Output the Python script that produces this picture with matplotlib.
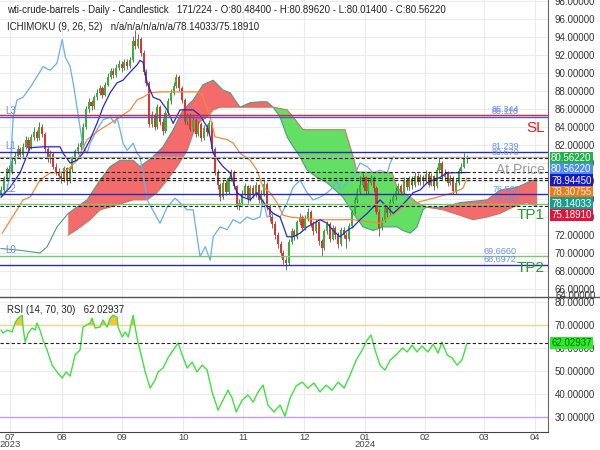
import matplotlib.pyplot as plt
from matplotlib.lines import Line2D
import numpy as np

plt.rcParams['font.family'] = ['Liberation Sans', 'DejaVu Sans']

# daily candles (bar index 0..170), open of each bar = previous close
first_open = 76.6
closes = [77.0, 78.2, 79.3, 79.0, 80.2, 80.8, 81.5, 80.9, 81.8, 82.6,
          81.7, 82.9, 83.4, 82.8, 84.0, 83.2, 81.5, 80.4, 81.0, 79.6,
          79.0, 78.6, 78.2, 79.4, 78.0, 79.3, 80.5, 81.3, 81.8, 82.2,
          84.0, 86.0, 86.8, 86.3, 87.3, 87.8, 88.3, 87.6, 88.7, 89.6,
          90.2, 89.8, 90.6, 91.0, 90.5, 91.2, 90.8, 91.4, 93.6, 93.0,
          93.8, 92.2, 90.1, 88.9, 84.3, 85.3, 84.0, 86.2, 84.6, 83.5,
          85.6, 86.9, 87.8, 88.6, 89.6, 88.3, 87.0, 84.6, 85.2, 83.8,
          84.8, 83.2, 84.3, 82.8, 83.9, 83.4, 84.4, 81.6, 79.0, 77.5,
          76.2, 77.8, 76.8, 78.3, 79.0, 77.4, 75.2, 75.6, 76.6, 77.4,
          76.0, 77.2, 76.5, 77.5, 75.9, 76.6, 77.7, 75.1, 74.0, 73.2,
          72.0, 71.0, 70.0, 69.2, 68.9, 71.2, 72.4, 71.8, 73.4, 74.0,
          72.8, 73.9, 74.6, 73.2, 72.4, 73.4, 71.3, 70.5, 72.4, 73.2,
          71.6, 72.8, 72.0, 71.0, 72.6, 72.0, 71.5, 73.0, 74.5, 75.9,
          76.8, 77.6, 78.4, 76.9, 77.8, 78.3, 77.2, 74.6, 72.8, 73.6,
          75.0, 74.4, 75.7, 76.2, 76.9, 77.4, 76.8, 78.0, 77.3, 78.2,
          77.5, 78.6, 77.9, 78.4, 78.0, 78.8, 77.6, 78.5, 77.4, 79.2,
          80.0, 78.4, 78.9, 77.8, 78.3, 76.9, 77.8, 79.1, 79.6, 80.484,
          80.5622]
highs = [77.4, 78.5, 79.6, 79.8, 80.5, 81.2, 82.0, 81.8, 82.2, 83.0,
         82.9, 83.2, 84.0, 83.7, 84.6, 84.3, 83.4, 81.8, 81.4, 81.2,
         80.0, 79.4, 78.9, 79.7, 79.6, 79.6, 80.8, 81.6, 82.2, 82.5,
         84.4, 86.3, 87.2, 87.0, 87.6, 88.2, 88.7, 88.6, 89.0, 90.0,
         90.6, 90.5, 91.0, 91.4, 91.3, 91.6, 91.5, 91.8, 94.1, 94.8,
         94.3, 94.0, 92.5, 90.4, 89.1, 85.8, 85.6, 86.6, 86.4, 85.0,
         85.9, 87.2, 88.2, 89.0, 89.9, 89.8, 88.6, 87.2, 85.6, 85.5,
         85.2, 85.0, 84.7, 84.5, 84.2, 84.3, 84.8, 84.6, 81.8, 79.3,
         77.8, 78.1, 78.1, 78.6, 79.3, 79.2, 77.6, 76.0, 77.0, 77.8,
         77.6, 77.5, 77.5, 77.9, 77.7, 77.0, 78.1, 77.9, 75.4, 74.3,
         73.5, 72.3, 71.3, 70.3, 69.6, 71.5, 72.8, 72.7, 73.7, 74.4,
         74.2, 74.2, 75.0, 74.8, 73.5, 73.8, 73.6, 71.6, 72.7, 73.6,
         73.4, 73.1, 73.0, 72.3, 72.9, 72.9, 72.3, 73.3, 74.8, 76.2,
         77.2, 78.6, 78.9, 78.6, 78.2, 78.7, 78.5, 77.4, 74.9, 74.0,
         75.4, 75.3, 76.0, 76.6, 77.3, 77.8, 77.7, 78.4, 78.3, 78.6,
         78.5, 79.0, 78.9, 78.8, 78.7, 79.2, 79.0, 78.9, 78.7, 79.5,
         80.6, 80.2, 79.3, 79.1, 78.7, 78.5, 78.2, 79.4, 80.0, 81.1,
         80.8962]
lows = [76.3, 76.8, 78.0, 78.6, 78.8, 79.9, 80.5, 80.4, 80.7, 81.5,
        81.3, 81.5, 82.6, 82.4, 82.6, 82.9, 81.2, 80.1, 80.0, 79.3,
        78.7, 78.2, 77.8, 77.9, 77.6, 77.8, 79.0, 80.2, 81.0, 81.4,
        82.0, 83.8, 85.7, 85.9, 86.0, 87.0, 87.5, 87.2, 87.4, 88.5,
        89.3, 89.4, 89.6, 90.3, 90.1, 90.3, 90.4, 90.6, 91.2, 92.7,
        92.8, 91.9, 89.8, 88.5, 84.0, 84.0, 83.7, 83.8, 84.2, 83.1,
        83.3, 85.3, 86.6, 87.5, 88.3, 88.0, 86.7, 84.3, 84.2, 83.5,
        83.5, 82.9, 83.0, 82.4, 82.6, 83.0, 83.2, 81.3, 78.7, 77.1,
        75.8, 76.0, 76.4, 76.5, 78.0, 77.1, 74.9, 74.8, 75.3, 76.3,
        75.6, 75.8, 76.1, 76.2, 75.6, 75.6, 76.3, 74.8, 73.6, 72.8,
        71.6, 70.6, 69.6, 68.8, 68.1, 68.7, 71.0, 71.4, 71.6, 73.1,
        72.4, 72.6, 73.6, 72.9, 72.0, 72.2, 70.9, 69.7, 70.3, 72.1,
        71.2, 71.4, 71.6, 70.6, 70.8, 71.7, 70.6, 71.3, 72.8, 74.3,
        75.6, 76.5, 77.3, 76.5, 76.6, 77.5, 76.8, 74.3, 71.9, 72.5,
        73.4, 74.0, 74.2, 75.4, 75.9, 76.6, 76.4, 76.6, 77.0, 77.0,
        77.1, 77.3, 77.5, 77.6, 77.6, 77.8, 77.3, 77.4, 77.0, 77.2,
        78.9, 78.1, 78.1, 77.4, 77.5, 76.5, 76.6, 77.6, 78.9, 79.4,
        80.014]

# ichimoku lines: (bar, price)
tenkan = [(0, 76.2), (3.3, 77.3), (6.9, 78.9), (10.6, 81.7), (15.3, 81.8), (21.5, 81.8),
          (22.6, 81.1), (25.2, 80.0), (27.7, 80.3), (29.9, 81.1), (32.5, 82.6), (35.0, 84.4),
          (37.2, 86.2), (39.8, 87.8), (42.3, 88.9), (44.5, 89.2), (47.1, 90.1), (49.6, 90.9),
          (50.7, 91.4), (51.8, 91.2), (53.3, 88.9), (55.5, 87.3), (58.0, 87.0), (60.6, 85.9),
          (62.8, 84.4), (65.3, 85.9), (70.1, 85.9), (72.6, 85.3), (75.2, 84.0), (76.3, 82.9),
          (77.4, 81.1), (79.2, 80.3), (81.0, 79.6), (83.6, 78.9), (86.1, 76.7), (88.3, 76.2),
          (90.9, 75.9), (93.4, 76.7), (94.5, 76.2), (97.1, 75.1), (99.3, 74.4), (101.8, 74.0),
          (104.4, 71.8), (106.6, 71.8), (109.1, 72.2), (111.7, 72.9), (116.4, 73.7), (119.0, 73.3),
          (121.2, 72.5), (123.7, 71.8), (126.3, 72.5), (128.5, 72.9), (131.0, 73.7), (133.6, 74.4),
          (135.8, 75.1), (138.3, 75.9), (140.9, 75.1), (143.1, 74.4), (145.6, 75.1), (148.2, 75.9),
          (150.4, 76.7), (152.9, 77.0), (155.5, 77.8), (157.7, 78.1), (160.2, 78.4), (162.8, 78.9),
          (170, 78.9445)]
kijun = [(0.4, 72.2), (5.8, 74.8), (8.0, 75.9), (10.6, 76.2), (14.2, 78.1), (17.9, 78.9),
         (21.5, 78.9), (24.1, 79.2), (27.7, 80.3), (31.4, 82.6), (36.1, 83.7), (39.8, 84.4),
         (43.4, 85.1), (47.1, 85.9), (49.6, 87.0), (51.8, 87.3), (54.4, 87.8), (58.0, 87.9),
         (71.5, 87.9), (73.4, 87.6), (76.3, 85.1), (78.1, 82.9), (82.5, 82.6), (84.7, 82.2),
         (87.2, 81.1), (90.9, 80.3), (93.4, 79.2), (95.6, 77.3), (98.2, 76.7), (100.7, 75.6),
         (102.9, 74.2), (105.5, 74.0), (115.3, 73.7), (128.5, 73.7), (138.3, 73.3), (142.7, 74.2),
         (146.7, 75.1), (152.9, 75.7), (159.1, 76.2), (165.0, 76.7), (168.6, 77.2), (170, 78.30755)]
chikou = [(0, 76.4), (2.2, 77.0), (3.3, 78.9), (4.4, 85.1), (5.8, 87.0), (8.0, 87.3),
          (10.6, 88.4), (13.1, 89.6), (15.3, 90.7), (17.9, 90.3), (20.4, 91.1), (22.3, 93.7),
          (23.4, 91.8), (25.2, 90.7), (26.3, 88.9), (27.7, 86.2), (28.8, 84.0), (29.9, 81.8),
          (31.4, 81.1), (32.5, 82.2), (35.0, 83.7), (37.2, 84.8), (39.8, 85.1), (41.6, 84.4),
          (42.3, 85.1), (43.4, 83.7), (44.5, 82.2), (46.0, 81.4), (48.2, 82.2), (49.6, 81.1),
          (50.7, 80.7), (53.3, 75.9), (58.0, 73.3), (60.6, 75.1), (63.5, 76.1), (67.9, 74.8),
          (70.1, 74.8), (72.6, 69.6), (74.5, 70.7), (76.3, 69.2), (77.4, 71.8), (79.9, 72.9),
          (82.5, 72.6), (84.7, 73.7), (87.2, 73.3), (89.8, 74.0), (92.0, 73.7), (94.5, 74.0),
          (95.6, 75.9), (97.1, 74.0), (99.3, 74.4), (101.8, 74.0), (104.4, 75.6), (106.6, 77.3),
          (109.1, 78.1), (111.7, 76.7), (113.9, 75.9), (116.4, 76.2), (119.0, 76.7), (121.2, 77.3),
          (122.6, 78.1), (123.7, 77.0), (126.3, 77.8), (128.5, 78.4), (131.0, 80.0), (133.6, 79.6),
          (135.8, 78.9), (138.3, 79.2), (140.9, 78.9), (142.0, 80.0), (143.1, 80.7), (144.0, 80.56)]
span_a = [(0, 70.5), (6.9, 70.3), (14.2, 70.0), (16.8, 70.7), (20.4, 72.9), (24.5, 74.4),
          (27.7, 75.1), (31.4, 75.9), (36.1, 78.1), (39.8, 79.6), (43.4, 80.3), (48.2, 80.3),
          (50.7, 79.6), (55.5, 80.7), (59.1, 81.8), (62.8, 83.7), (66.4, 85.9), (70.1, 87.0),
          (73.7, 88.7), (77.4, 89.2), (81.0, 88.1), (83.6, 87.8), (87.2, 86.2), (90.9, 86.7),
          (94.5, 86.8), (97.1, 86.8), (99.3, 86.2), (101.8, 85.1), (104.4, 82.9), (106.6, 81.8),
          (109.1, 80.7), (111.7, 79.2), (115.3, 78.4), (119.0, 77.8), (124.8, 76.2), (128.5, 74.4),
          (132.1, 72.9), (135.8, 72.5), (139.4, 72.9), (144.5, 72.9), (146.7, 72.5), (149.3, 72.2),
          (151.8, 72.9), (154.0, 74.8), (155.1, 75.1), (161.3, 75.1), (167.5, 75.6), (177.4, 75.9),
          (182.1, 77.0), (188.3, 77.3), (194.2, 78.1), (195.6, 78.14033)]
span_b = [(24.5, 72.0), (27.7, 72.6), (32.5, 73.7), (36.1, 74.8), (39.8, 75.1), (48.2, 75.9),
          (53.3, 75.9), (56.9, 76.7), (60.6, 78.1), (64.2, 79.6), (67.9, 81.4), (70.1, 83.3),
          (72.6, 84.6), (75.2, 85.1), (77.4, 85.9), (79.9, 86.2), (99.3, 86.2), (104.4, 85.9),
          (106.6, 85.1), (110.2, 83.7), (125.5, 83.7), (128.5, 80.7), (129.9, 79.0), (142.7, 78.9),
          (144.5, 77.3), (146.7, 76.7), (149.3, 76.2), (151.8, 75.6), (155.1, 75.1), (161.3, 74.8),
          (172.3, 73.7), (177.4, 74.0), (182.1, 74.4), (186.9, 75.1), (191.8, 75.6), (195.6, 75.1891)]
# cloud sections (start bar, end bar, colour)
cloud_sections = [(24.5, 99.3, '#f36b6b'), (99.3, 155.1, '#63e063'), (155.1, 195.6, '#f36b6b')]

# rsi: (bar, value)
rsi = [(0, 67.8), (0.7, 66.5), (2.2, 67.8), (4.0, 67.0), (5.1, 70.9), (6.2, 73.0), (7.7, 74.3),
       (8.0, 69.1), (8.8, 62.6), (9.9, 66.5), (11.3, 68.7), (12.4, 67.8), (13.1, 70.9), (14.2, 67.8),
       (15.3, 63.5), (16.8, 59.1), (18.6, 52.6), (20.4, 49.6), (22.3, 47.0), (23.7, 49.6), (25.2, 47.8),
       (27.0, 57.0), (28.8, 59.1), (29.9, 69.1), (32.5, 70.9), (33.2, 73.0), (34.3, 68.7), (36.1, 69.1),
       (37.2, 72.2), (38.7, 69.1), (39.8, 73.0), (40.9, 74.3), (42.3, 73.5), (42.7, 69.1), (44.2, 64.8),
       (45.3, 67.0), (46.4, 64.8), (48.2, 74.3), (48.9, 69.1), (50.0, 62.2), (50.7, 59.1), (52.6, 49.6),
       (54.4, 42.6), (56.2, 46.1), (57.3, 49.6), (59.1, 51.3), (60.9, 55.7), (62.8, 59.1), (64.6, 62.2),
       (66.1, 57.0), (67.9, 51.3), (69.7, 53.9), (71.5, 49.6), (73.4, 52.6), (75.2, 50.4), (77.0, 40.9),
       (79.2, 33.0), (81.0, 37.4), (82.8, 41.7), (84.3, 38.3), (85.8, 32.2), (88.0, 37.4), (90.1, 39.6),
       (92.0, 36.5), (93.8, 40.9), (95.6, 43.9), (97.4, 35.2), (99.6, 32.2), (101.8, 35.2), (103.6, 30.4),
       (105.5, 38.3), (107.7, 43.5), (109.9, 45.2), (112.0, 42.6), (114.2, 44.8), (116.4, 40.9),
       (118.6, 43.9), (120.8, 41.7), (123.0, 45.2), (125.2, 42.6), (127.4, 48.3), (129.6, 54.8),
       (131.8, 59.1), (133.6, 63.5), (135.0, 65.7), (136.5, 59.1), (138.3, 52.6), (140.1, 50.4),
       (142.0, 54.8), (144.2, 57.0), (146.4, 60.0), (148.2, 58.3), (150.0, 61.3), (151.8, 58.3),
       (153.6, 60.9), (155.8, 58.3), (157.7, 61.7), (159.5, 57.8), (160.9, 62.6), (162.8, 57.0),
       (164.6, 55.7), (166.4, 52.6), (168.2, 54.8), (169.3, 59.1), (170, 62.02937)]

# trade levels
level_values = [85.344, 85.116, 81.239, 80.670, 76.507, 75.467, 69.666, 68.6972]
level_labels = ['85.344', '85.116', '81.239', '80.670', '76.507', '75.467', '69.6660', '68.6972']
level_colors = ['#d42a2a', '#5050e0', '#2a2ab4', '#b0b0b0', '#2a2ab4', '#7ac47a', '#7ac47a', '#2a2ab4']
dashed_values = [80.5622, 78.9445, 78.30755, 78.14033, 75.1891]
side_labels = [('L3', 85.116), ('L1', 81.239), ('L2', 76.507), ('L0', 69.666)]
right_values = ['80.56220', '80.56220', '78.94450', '78.30755', '78.14033', '75.18910']
right_colors = ['#22b04a', '#4a8ff0', '#1818c8', '#f07a1a', '#1a9e8a', '#e0143c']

month_pos = [3.3, 22.3, 44.2, 66.4, 88.3, 110.6, 132.8, 154.7, 176.3, 194.9]
month_labels = ['07\n2023', '08', '09', '10', '11', '12', '01\n2024', '02', '03', '04']

fig = plt.figure(figsize=(6, 4.5), dpi=100)
ax = fig.add_axes([0, 0.34, 548 / 600, 0.66])
ax2 = fig.add_axes([0, 0.04, 548 / 600, 0.30], sharex=ax)

# cloud
for s, e, col in cloud_sections:
    a = [p for p in span_a if s <= p[0] <= e]
    b = [p for p in span_b if s <= p[0] <= e][::-1]
    poly = a + b
    ax.fill([p[0] for p in poly], [p[1] for p in poly], color=col, lw=0, zorder=1)
ax.plot(*zip(*span_a), color='#4f9c82', lw=0.8, zorder=2)
ax.plot(*zip(*span_b), color='#c07a62', lw=0.8, zorder=2)

# candles
x = np.arange(len(closes))
opens = [first_open] + closes[:-1]
ax.vlines(x, lows, highs, color='#555555', lw=0.6, zorder=3)
body_bottom = [min(o, c) for o, c in zip(opens, closes)]
body_height = [max(abs(c - o), 0.06) for o, c in zip(opens, closes)]
body_col = ['#2fb52f' if c >= o else '#e53131' for o, c in zip(opens, closes)]
ax.bar(x, body_height, bottom=body_bottom, width=0.75, color=body_col, lw=0, zorder=4)

# ichimoku lines
ax.plot(*zip(*chikou), color='#6aaef0', lw=0.9, zorder=5)
ax.plot(*zip(*kijun), color='#f08a3c', lw=0.9, zorder=5)
ax.plot(*zip(*tenkan), color='#2828c8', lw=0.9, zorder=5)

# levels
for v, lab, col in zip(level_values, level_labels, level_colors):
    ax.axhline(v, color=col, lw=1.0, zorder=6)
    lx = 175.9 if len(lab) > 6 else 179.2
    ax.text(lx, v + 0.05, lab, color='#6a8ee8', fontsize=6.5, va='bottom', ha='left', zorder=7)
for v in dashed_values:
    ax.axhline(v, color='#222222', lw=0.8, ls=(0, (3, 2)), zorder=6)
for lab, v in side_labels:
    ax.text(1.5, v + 0.1, lab, color='#6a8ee8', fontsize=7, va='bottom', ha='left', zorder=7)

ax.text(198.5, 83.9, 'SL', color='#e02020', fontsize=11, ha='right', va='center', zorder=7)
ax.text(198.5, 79.2, 'At Price', color='#9a9a9a', fontsize=10, ha='right', va='center', zorder=7)
ax.text(198.5, 74.2, 'TP1', color='#2a9a2a', fontsize=11, ha='right', va='center', zorder=7)
ax.text(198.5, 68.3, 'TP2', color='#2a9a2a', fontsize=11, ha='right', va='center', zorder=7)

ax.set_xlim(-0.4, 199.6)
ax.set_ylim(65.11, 98.11)
ax.yaxis.tick_right()
ax.set_yticks(np.arange(66, 99, 2))
ax.set_yticklabels(['%.5f' % t for t in np.arange(66, 99, 2)])
ax.tick_params(axis='y', length=0, labelsize=7, colors='#333333', pad=5)
ax.tick_params(axis='x', length=0, labelbottom=False)
ax.set_xticks(month_pos)
ax.grid(color='#ebebeb', lw=0.8)
ax.set_axisbelow(True)
for sp in ['left', 'top', 'bottom']:
    ax.spines[sp].set_visible(False)
ax.spines['right'].set_color('#666666')

# rsi panel
rx, ry = zip(*rsi)
ax2.plot(rx, ry, color='#3fe03f', lw=1.0, zorder=4)
ax2.fill_between(rx, ry, 70, where=np.array(ry) > 70, interpolate=True, color='#f5c242', lw=0, zorder=3)
ax2.axhline(70, color='#f5d28e', lw=1.0, zorder=2)
ax2.axhline(30, color='#c89cf0', lw=1.0, zorder=2)
ax2.axhline(62.02937, color='#222222', lw=0.8, ls=(0, (3, 2)), zorder=5)
ax2.set_ylim(23.5, 82.2)
ax2.yaxis.tick_right()
ax2.set_yticks([30, 40, 50, 60, 70, 80])
ax2.set_yticklabels(['%.5f' % t for t in [30, 40, 50, 60, 70, 80]])
ax2.tick_params(axis='y', length=0, labelsize=7, colors='#333333', pad=5)
ax2.set_xticks(month_pos)
ax2.set_xticklabels(month_labels)
ax2.tick_params(axis='x', length=0, labelsize=6.8, colors='#444444', pad=0.5)
for lab in ax2.get_xticklabels():
    lab.set_linespacing(0.8)
ax2.grid(color='#ebebeb', lw=0.8)
ax2.set_axisbelow(True)
ax2.spines['left'].set_visible(False)
ax2.spines['top'].set_visible(False)
ax2.spines['right'].set_color('#666666')
ax2.spines['bottom'].set_color('#444444')

fig.add_artist(Line2D([0, 1], [1 - 297 / 450] * 2, color='#555555', lw=1.0))

# header texts
fig.text(7 / 600, 1 - 10 / 450, 'wti-crude-barrels - Daily - Candlestick   171/224 - O:80.48400 - H:80.89620 - L:80.01400 - C:80.56220',
         fontsize=7, color='#222222', va='center', ha='left')
fig.text(7 / 600, 1 - 27 / 450, 'ICHIMOKU (9, 26, 52)   n/a/n/a/n/a/n/a/78.14033/75.18910',
         fontsize=7, color='#222222', va='center', ha='left')
fig.text(7 / 600, 1 - 310 / 450, 'RSI (14, 70, 30)   62.02937', fontsize=7, color='#222222', va='center', ha='left')

# value boxes on the price scale
for i, (txt, col) in enumerate(zip(right_values, right_colors)):
    fig.text(551 / 600, 1 - (158 + i * 11.4) / 450, txt, fontsize=7, color='white', va='center', ha='left',
             bbox=dict(boxstyle='square,pad=0.15', fc=col, ec='none'))
fig.text(551 / 600, 1 - 343 / 450, '62.02937', fontsize=7, color='#0b5e0b', va='center', ha='left',
         bbox=dict(boxstyle='square,pad=0.15', fc='#2aee2a', ec='none'))
fig.text(555 / 600, 1 - 296 / 450, '64.00000', fontsize=7, color='#333333', va='center', ha='left')

fig.savefig('out.png', dpi=100)
